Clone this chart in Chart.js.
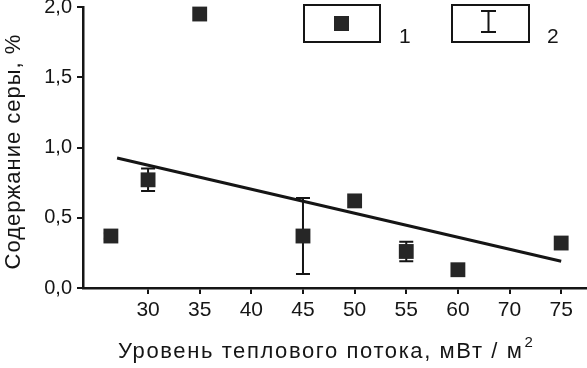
<!DOCTYPE html>
<html>
<head>
<meta charset="utf-8">
<script src="https://cdn.jsdelivr.net/npm/chart.js@4"></script>
<style>
  html, body { margin: 0; padding: 0; background: #fff; }
  #wrap { width: 587px; height: 368px; }
</style>
</head>
<body>
<div id="wrap"><canvas id="myChartSulfur"></canvas></div>
<script>
// --- data ---
var tickValues = [30, 35, 40, 45, 50, 55, 60, 70, 75];   // unevenly spaced axis labels
var heatFlow = [26.4, 30, 35, 45, 50, 55, 60, 75];       // мВт/м2
var sulfur = [0.37, 0.77, 1.95, 0.37, 0.62, 0.26, 0.13, 0.32]; // %
var sulfurErr = [0.02, 0.08, 0, 0.27, 0, 0.07, 0, 0];
var trendX = [27, 75];
var trendY = [0.925, 0.19];

var xTitle = "Уровень теплового потока, мВт / м";
var xTitleSup = "2";
var yTitle = "Содержание серы, %";

// the printed axis is spaced by tick index, not by value
function axisPos(v) {
  if (v <= tickValues[0]) return (v - tickValues[0]) / (tickValues[1] - tickValues[0]);
  for (var i = 0; i < tickValues.length - 1; i++) {
    if (v <= tickValues[i + 1]) {
      return i + (v - tickValues[i]) / (tickValues[i + 1] - tickValues[i]);
    }
  }
  var n = tickValues.length - 1;
  return n + (v - tickValues[n]) / (tickValues[n] - tickValues[n - 1]);
}

var points = heatFlow.map(function (h, i) { return { x: axisPos(h), y: sulfur[i] }; });
var trend = trendX.map(function (h, i) { return { x: axisPos(h), y: trendY[i] }; });

var FONT = "'Liberation Sans', Arial, sans-serif";
var INK = "#151515";

var errorBars = {
  id: "errorBars",
  beforeDatasetsDraw: function (chart) {
    var ctx = chart.ctx, xs = chart.scales.x, ys = chart.scales.y;
    ctx.save();
    ctx.strokeStyle = INK;
    ctx.lineWidth = 2;
    heatFlow.forEach(function (h, i) {
      if (!sulfurErr[i]) return;
      var px = xs.getPixelForValue(axisPos(h));
      var top = ys.getPixelForValue(sulfur[i] + sulfurErr[i]);
      var bot = ys.getPixelForValue(sulfur[i] - sulfurErr[i]);
      ctx.beginPath();
      ctx.moveTo(px, top); ctx.lineTo(px, bot);
      ctx.moveTo(px - 7, top); ctx.lineTo(px + 7, top);
      ctx.moveTo(px - 7, bot); ctx.lineTo(px + 7, bot);
      ctx.stroke();
    });
    ctx.restore();
  }
};

// axis titles drawn by hand: the print uses loose tracking and a raised "2"
var axisTitles = {
  id: "axisTitles",
  afterDraw: function (chart) {
    var ctx = chart.ctx, area = chart.chartArea;
    ctx.save();
    ctx.fillStyle = INK;
    ctx.font = "22px " + FONT;
    ctx.letterSpacing = "1.6px";
    ctx.textAlign = "left";
    ctx.textBaseline = "alphabetic";
    var x0 = area.left + 35;
    ctx.fillText(xTitle, x0, 358);
    var w = ctx.measureText(xTitle).width;
    ctx.font = "15px " + FONT;
    ctx.fillText(xTitleSup, x0 + w + 1, 347);

    ctx.font = "22px " + FONT;
    ctx.letterSpacing = "1px";
    ctx.translate(20, (area.top + area.bottom) / 2 + 4);
    ctx.rotate(-Math.PI / 2);
    ctx.textAlign = "center";
    ctx.fillText(yTitle, 0, 0);
    ctx.restore();
  }
};

// legend: two framed boxes with "1" and "2"
var boxLegend = {
  id: "boxLegend",
  afterDraw: function (chart) {
    var ctx = chart.ctx;
    ctx.save();
    ctx.strokeStyle = INK;
    ctx.lineWidth = 2;
    ctx.strokeRect(304, 5, 76, 37);
    ctx.strokeRect(452, 5, 77, 37);
    ctx.fillStyle = "#262626";
    ctx.fillRect(334, 16, 15, 15);
    ctx.beginPath();
    ctx.moveTo(488.5, 11); ctx.lineTo(488.5, 32);
    ctx.moveTo(481, 11); ctx.lineTo(496, 11);
    ctx.moveTo(481, 32); ctx.lineTo(496, 32);
    ctx.stroke();
    ctx.fillStyle = INK;
    ctx.font = "21px " + FONT;
    ctx.textBaseline = "alphabetic";
    ctx.fillText("1", 399, 43);
    ctx.fillText("2", 547, 43);
    ctx.restore();
  }
};

var chSulfur = document.getElementById("myChartSulfur").getContext("2d");

var myChartSulfur = new Chart(chSulfur, {
  type: "scatter",
  plugins: [errorBars, axisTitles, boxLegend],
  data: {
    datasets: [
      {
        label: "1",
        data: points,
        pointStyle: "rect",
        pointRadius: 10.5,
        pointHoverRadius: 10.5,
        backgroundColor: "#262626",
        borderColor: "#262626",
        borderWidth: 0,
        clip: false,
      },
      {
        label: "trend",
        type: "line",
        data: trend,
        borderColor: INK,
        borderWidth: 3,
        pointRadius: 0,
        fill: false,
        clip: false,
      },
    ],
  },
  options: {
    responsive: true,
    maintainAspectRatio: false,
    animation: false,
    layout: { autoPadding: false, padding: { top: 7, left: 0, right: 0, bottom: 0 } },
    plugins: {
      legend: { display: false },
      tooltip: { enabled: false },
    },
    scales: {
      x: {
        type: "linear",
        min: -1.26,
        max: 8.5,
        afterFit: function (s) {
          s.height = 80;
          s.paddingLeft = 0;
          s.paddingRight = 0;
        },
        afterBuildTicks: function (s) {
          s.ticks = tickValues.map(function (t, i) { return { value: i }; });
        },
        ticks: {
          color: INK,
          font: { family: FONT, size: 21 },
          padding: 4,
          maxRotation: 0,
          callback: function (v) { return tickValues[v]; },
        },
        grid: { drawOnChartArea: false, tickLength: 6, color: INK, lineWidth: 2 },
        border: { color: INK, width: 2.5 },
      },
      y: {
        min: 0,
        max: 2,
        afterFit: function (s) {
          s.width = 83;
          s.paddingTop = 0;
          s.paddingBottom = 0;
        },
        ticks: {
          stepSize: 0.5,
          color: INK,
          font: { family: FONT, size: 20 },
          padding: 5,
          callback: function (v) { return v.toFixed(1).replace(".", ","); },
        },
        grid: { drawOnChartArea: false, tickLength: 6, color: INK, lineWidth: 2 },
        border: { color: INK, width: 2.5 },
      },
    },
  },
});
</script>
</body>
</html>
